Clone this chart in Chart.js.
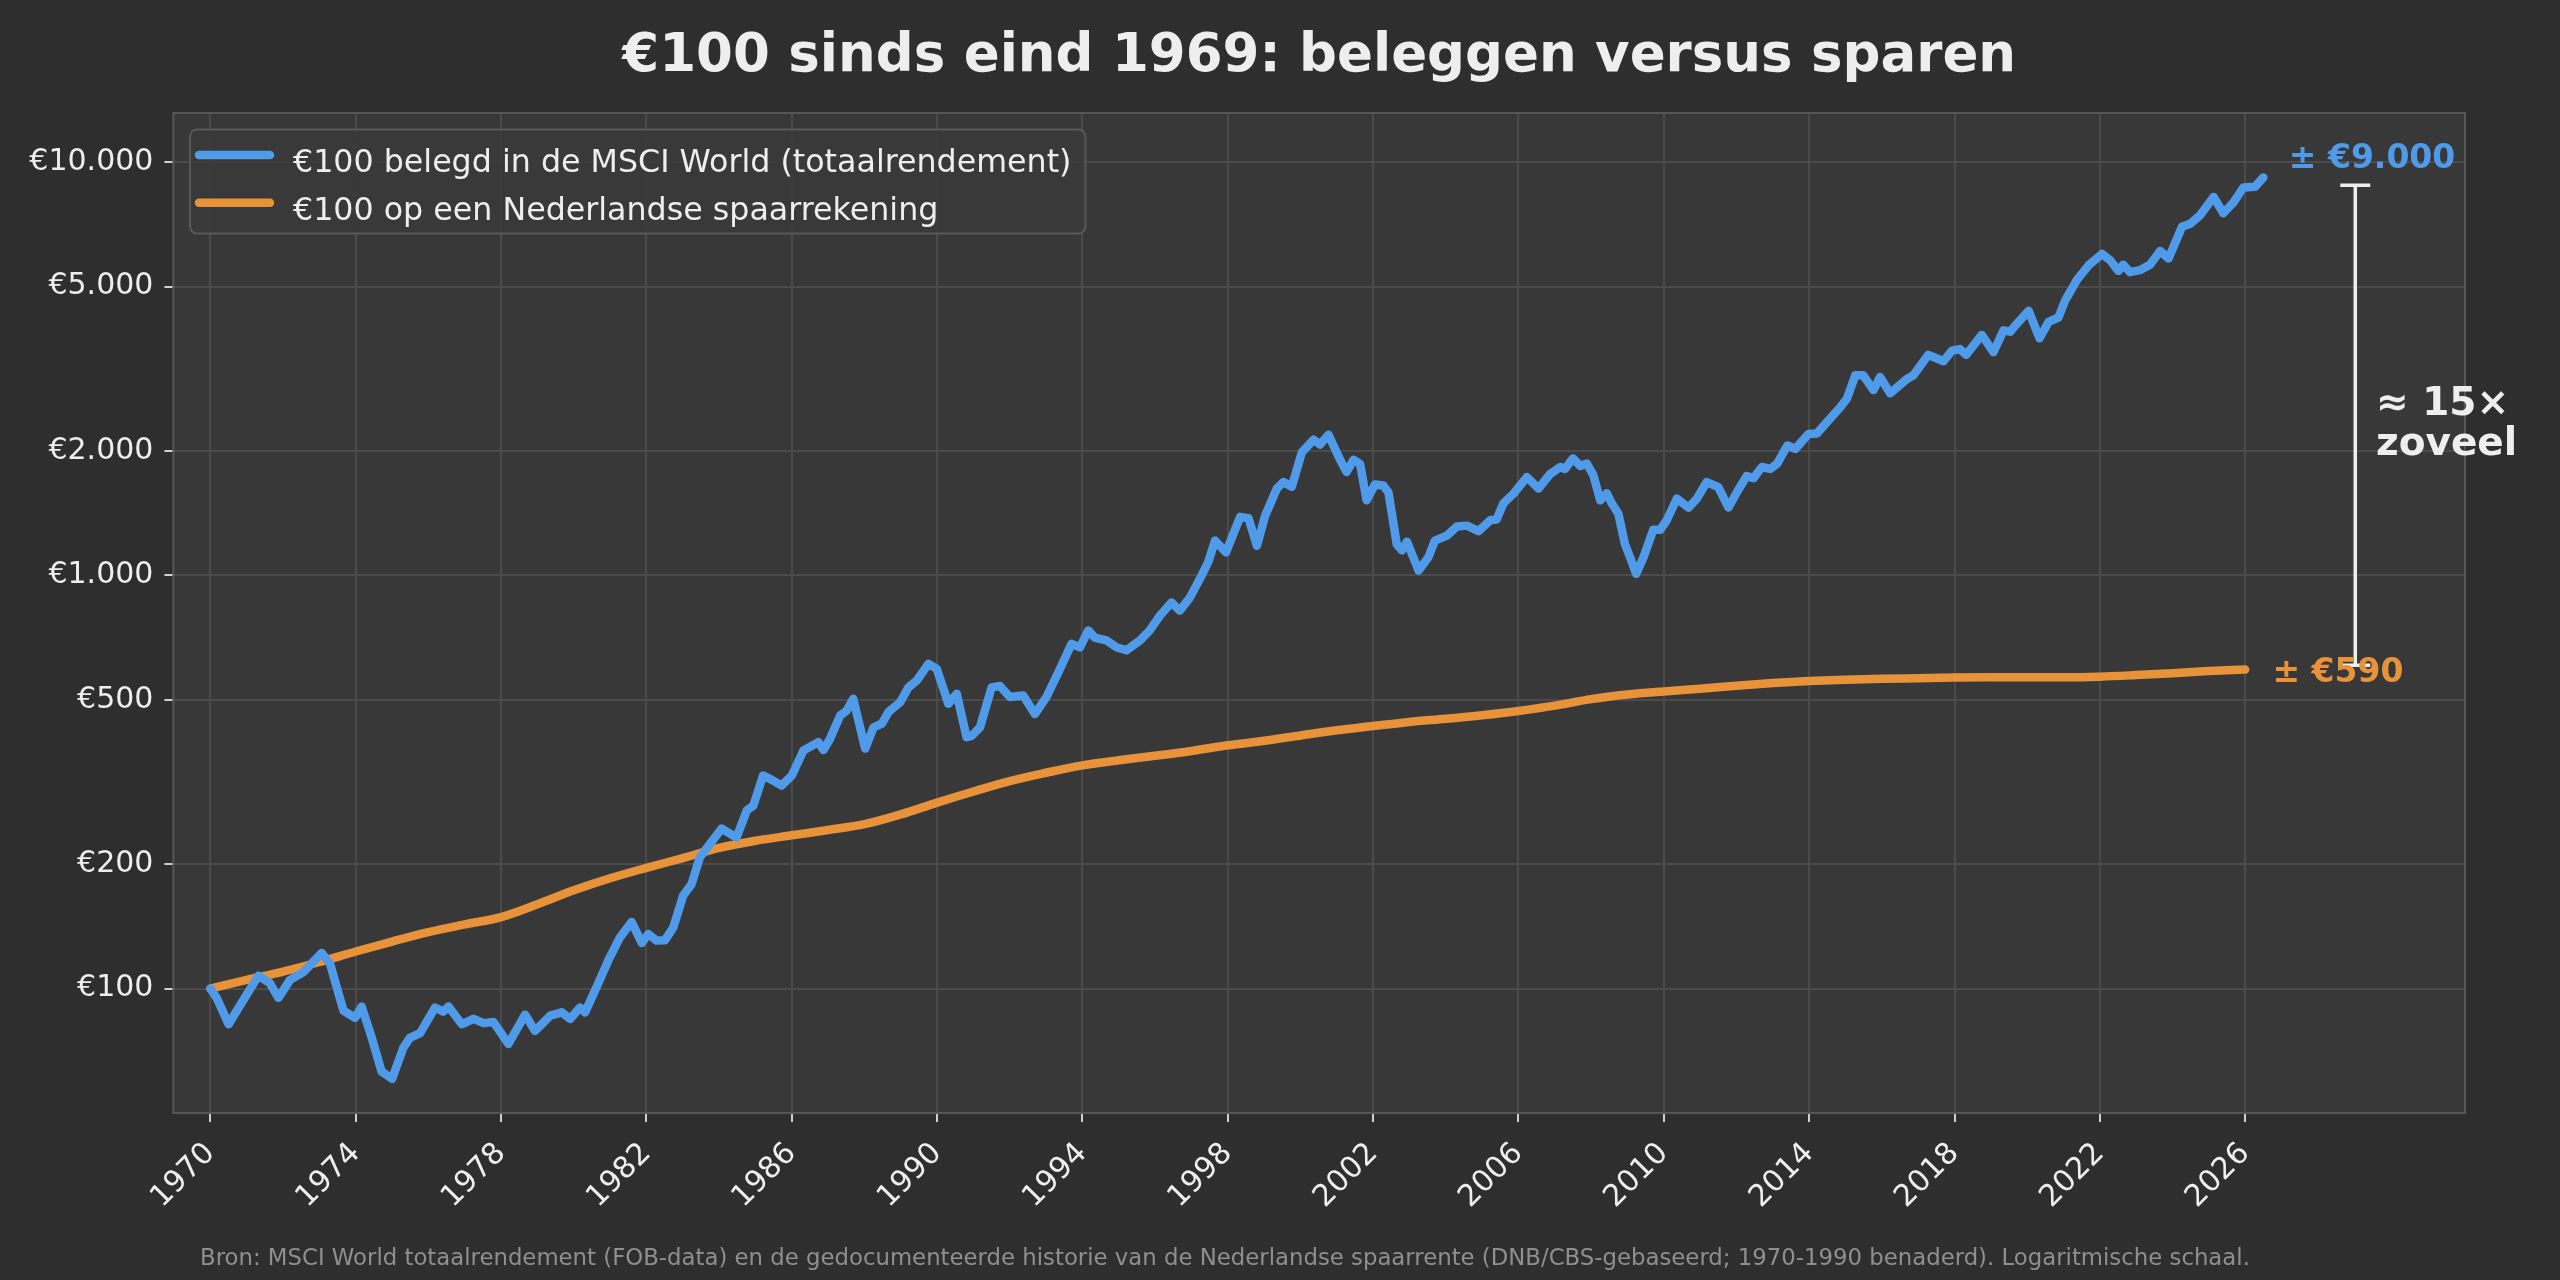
<!DOCTYPE html>
<html><head><meta charset="utf-8">
<script src="https://cdn.jsdelivr.net/npm/chart.js@4.4.1/dist/chart.umd.min.js"></script>
<style>html,body{margin:0;padding:0;background:#2e2e2e;overflow:hidden}#wrap{width:2560px;height:1280px}</style>
</head><body><div id="wrap"><canvas id="c" width="2560" height="1280"></canvas></div>
<script>
const titleText = '€100 sinds eind 1969: beleggen versus sparen';
const footerText = 'Bron: MSCI World totaalrendement (FOB-data) en de gedocumenteerde historie van de Nederlandse spaarrente (DNB/CBS-gebaseerd; 1970-1990 benaderd). Logaritmische schaal.';
const seriesLabels = ['€100 belegd in de MSCI World (totaalrendement)', '€100 op een Nederlandse spaarrekening'];

const blueYears = [1970.00,1970.17,1970.50,1970.78,1971.32,1971.64,1971.87,1972.19,1972.55,1973.06,1973.29,1973.66,1973.98,1974.16,1974.44,1974.71,1975.00,1975.31,1975.49,1975.77,1976.18,1976.41,1976.55,1976.92,1977.24,1977.52,1977.79,1978.20,1978.66,1978.93,1979.35,1979.67,1979.90,1980.17,1980.31,1980.63,1980.95,1981.27,1981.59,1981.87,1982.05,1982.28,1982.51,1982.74,1983.01,1983.24,1983.47,1983.75,1984.07,1984.48,1984.76,1984.94,1985.21,1985.45,1985.72,1986.00,1986.32,1986.73,1986.87,1987.05,1987.33,1987.51,1987.69,1988.02,1988.25,1988.48,1988.66,1988.98,1989.21,1989.44,1989.76,1989.99,1990.31,1990.54,1990.81,1990.95,1991.18,1991.50,1991.73,1992.00,1992.37,1992.69,1993.01,1993.38,1993.70,1993.93,1994.16,1994.34,1994.66,1994.94,1995.21,1995.58,1995.85,1996.13,1996.45,1996.68,1996.96,1997.28,1997.46,1997.65,1997.95,1998.34,1998.57,1998.80,1999.03,1999.35,1999.53,1999.76,2000.04,2000.36,2000.54,2000.77,2001.09,2001.27,2001.46,2001.64,2001.82,2002.05,2002.28,2002.42,2002.65,2002.79,2002.93,2003.25,2003.52,2003.70,2004.03,2004.30,2004.58,2004.90,2005.22,2005.40,2005.58,2005.86,2006.23,2006.55,2006.87,2007.15,2007.28,2007.50,2007.70,2007.88,2008.06,2008.25,2008.43,2008.57,2008.75,2008.93,2009.07,2009.24,2009.44,2009.71,2009.90,2010.08,2010.36,2010.68,2010.91,2011.18,2011.50,2011.78,2012.01,2012.28,2012.47,2012.70,2012.93,2013.12,2013.40,2013.62,2013.98,2014.21,2014.49,2014.85,2015.04,2015.27,2015.49,2015.77,2015.95,2016.23,2016.69,2016.87,2017.28,2017.70,2017.93,2018.15,2018.32,2018.75,2019.07,2019.35,2019.53,2019.72,2020.04,2020.34,2020.59,2020.86,2021.05,2021.37,2021.69,2022.06,2022.28,2022.51,2022.64,2022.83,2023.10,2023.38,2023.66,2023.89,2024.26,2024.49,2024.76,2025.13,2025.40,2025.68,2025.95,2026.27,2026.50];
const blueValues = [100,95,82,90,107.5,103,95,105,109.5,122,115,88.5,85,90.5,76,63,60.5,72,76,78,90,88,90.5,82,84.5,82.5,83,73.5,86.5,79,86,87.6,84.5,90,87.6,101,117,133,145,129,135.6,130.7,131,140.7,168,179,208,224,244,232,270,277,328,320,310,328,377,395,378,402,458,471,503,381,429,438,467,493,536,557,611,594,489,517,406,409,429,536,540,508,512,462,508,594,683,670,736,707,696,670,659,696,736,799,860,822,885,1000,1077,1214,1137,1386,1375,1180,1397,1623,1683,1640,1988,2130,2075,2190,1905,1780,1905,1860,1520,1660,1650,1590,1190,1150,1207,1028,1107,1214,1249,1313,1320,1280,1360,1366,1493,1577,1730,1623,1760,1830,1810,1920,1840,1865,1750,1520,1580,1493,1410,1190,1107,1009,1107,1290,1290,1360,1535,1460,1535,1683,1635,1460,1590,1740,1720,1830,1810,1865,2063,2025,2200,2205,2350,2550,2680,3050,3050,2810,3020,2760,2990,3050,3420,3300,3500,3530,3420,3820,3470,3920,3890,4070,4370,3750,4110,4210,4640,5190,5630,6000,5800,5460,5650,5420,5480,5650,6100,5850,6980,7100,7440,8240,7530,8000,8690,8720,9190];

const orangeYears = [1970,1971,1972,1973,1974,1975,1976,1977,1978,1979,1980,1981,1982,1983,1984,1985,1986,1987,1988,1989,1990,1991,1992,1993,1994,1995,1996,1997,1998,1999,2000,2001,2002,2003,2004,2005,2006,2007,2008,2009,2010,2011,2012,2013,2014,2015,2016,2017,2018,2019,2020,2021,2022,2023,2024,2025,2026];
const orangeValues = [100,105,110,116,123,130,137,143,149,160,173,185,196,207,219,228,235,242,250,264,282,300,318,333,347,357,366,376,388,398,410,422,432,442,450,459,470,484,502,515,524,532,541,549,555,559,562,564,566,567,567,567,569,574,580,587,592];

const xTickYears = [1970,1974,1978,1982,1986,1990,1994,1998,2002,2006,2010,2014,2018,2022,2026];
const yTickValues = [100,200,500,1000,2000,5000,10000];
const yTickLabels = ['€100','€200','€500','€1.000','€2.000','€5.000','€10.000'];

const endLabelBlue = '± €9.000';
const endLabelOrange = '± €590';
const ratioLines = ['≈ 15×','zoveel'];
const bracketTop = 9000, bracketBottom = 590;

const BG='#2e2e2e', PLOT='#383838', GRID='#4b4b4b', FRAME='#565656', TXT='#eeeeee';
const BLUE='#4f9bea', ORANGE='#e8933a';
const FONT='"DejaVu Sans", sans-serif';

const decor = {
  id:'decor',
  beforeDraw(chart){
    const {ctx, chartArea:a} = chart;
    ctx.save();
    ctx.fillStyle=BG; ctx.fillRect(0,0,chart.width,chart.height);
    ctx.fillStyle=PLOT; ctx.fillRect(a.left,a.top,a.right-a.left,a.bottom-a.top);
    ctx.restore();
  },
  afterDatasetsDraw(chart){
    const {ctx, chartArea:a, scales:{x,y}} = chart;
    ctx.save();
    ctx.strokeStyle=FRAME; ctx.lineWidth=2;
    ctx.strokeRect(a.left,a.top,a.right-a.left,a.bottom-a.top);
    // legend
    ctx.font='31.7px '+FONT;
    const textX=293, lx0=199, lx1=270;
    const w = Math.max(...seriesLabels.map(s=>ctx.measureText(s).width));
    const bx=190, by=129.5, bw=(textX+w+14)-bx, bh=104;
    ctx.beginPath(); ctx.roundRect(bx,by,bw,bh,7);
    ctx.fillStyle='rgba(58,58,58,0.92)'; ctx.fill();
    ctx.strokeStyle='#585858'; ctx.lineWidth=2; ctx.stroke();
    const rows=[155,202.7], bases=[172,220];
    chart.data.datasets.forEach((ds,i)=>{
      ctx.beginPath(); ctx.moveTo(lx0,rows[i]); ctx.lineTo(lx1,rows[i]);
      ctx.strokeStyle=ds.borderColor; ctx.lineWidth=8.5; ctx.lineCap='round'; ctx.stroke();
      ctx.fillStyle=TXT; ctx.textAlign='left'; ctx.textBaseline='alphabetic';
      ctx.fillText(ds.label, textX, bases[i]);
    });
    // bracket
    const bxp = x.getPixelForValue(2029.03);
    const t = y.getPixelForValue(bracketTop)+4, b = y.getPixelForValue(bracketBottom)-5;
    ctx.strokeStyle=TXT; ctx.lineWidth=3.5; ctx.lineCap='butt';
    ctx.beginPath(); ctx.moveTo(bxp,t); ctx.lineTo(bxp,b);
    ctx.moveTo(bxp-15,t); ctx.lineTo(bxp+15,t);
    ctx.moveTo(bxp-15,b); ctx.lineTo(bxp+15,b); ctx.stroke();
    // end labels
    ctx.font='bold 33px '+FONT; ctx.textAlign='left'; ctx.textBaseline='middle';
    ctx.fillStyle=BLUE; ctx.fillText(endLabelBlue, x.getPixelForValue(2027.2), y.getPixelForValue(10000)-3);
    ctx.fillStyle=ORANGE; ctx.fillText(endLabelOrange, x.getPixelForValue(2026.75), y.getPixelForValue(590)+3);
    // ratio text
    const gm = Math.sqrt(bracketTop*bracketBottom);
    const cy = y.getPixelForValue(gm);
    ctx.font='bold 39px '+FONT; ctx.fillStyle=TXT; ctx.textBaseline='alphabetic';
    ctx.fillText(ratioLines[0], x.getPixelForValue(2029.6), cy-11);
    ctx.fillText(ratioLines[1], x.getPixelForValue(2029.6), cy+29);
    // title
    ctx.font='bold 53px '+FONT; ctx.textAlign='center'; ctx.fillStyle=TXT;
    ctx.fillText(titleText, (a.left+a.right)/2, 70.5);
    // footer
    ctx.font='22.8px '+FONT; ctx.textAlign='left'; ctx.fillStyle='#8f8f8f';
    ctx.fillText(footerText, 200, 1265);
    ctx.restore();
  }
};

const blueData = blueYears.map((v,i)=>({x:v,y:blueValues[i]}));
const orangeData = orangeYears.map((v,i)=>({x:v,y:orangeValues[i]}));

new Chart(document.getElementById('c'), {
  type:'line',
  data:{datasets:[
    {label:seriesLabels[0], data:blueData, borderColor:BLUE, borderWidth:8.5, pointRadius:0, tension:0, borderJoinStyle:'round', borderCapStyle:'round'},
    {label:seriesLabels[1], data:orangeData, borderColor:ORANGE, borderWidth:8.5, pointRadius:0, cubicInterpolationMode:'monotone', borderJoinStyle:'round', borderCapStyle:'round'}
  ]},
  options:{
    responsive:false, animation:false, devicePixelRatio:1,
    layout:{padding:{top:113,right:95,left:0,bottom:0}},
    plugins:{legend:{display:false}, title:{display:false}, tooltip:{enabled:false}},
    scales:{
      x:{type:'linear', min:1968.98, max:2032.05,
        afterBuildTicks(s){ s.ticks = xTickYears.map(v=>({value:v})); },
        afterFit(s){ s.height = 167; },
        grid:{color:GRID, lineWidth:2, tickColor:'#d0d0d0', tickLength:9, tickWidth:2},
        border:{display:false},
        ticks:{color:TXT, font:{family:FONT, size:30}, minRotation:45, maxRotation:45, autoSkip:false, padding:14,
          callback:(v)=>String(v)}
      },
      y:{type:'logarithmic', min:50, max:13160,
        afterBuildTicks(s){ s.ticks = yTickValues.map(v=>({value:v})); },
        afterFit(s){ s.width = 173.4; },
        grid:{color:GRID, lineWidth:2, tickColor:'#d0d0d0', tickLength:9, tickWidth:2},
        border:{display:false},
        ticks:{color:TXT, font:{family:FONT, size:30}, padding:11, autoSkip:false,
          callback:(v)=>{const i=yTickValues.indexOf(v); return i>=0?yTickLabels[i]:'';}}
      }
    }
  },
  plugins:[decor]
});
</script></body></html>
